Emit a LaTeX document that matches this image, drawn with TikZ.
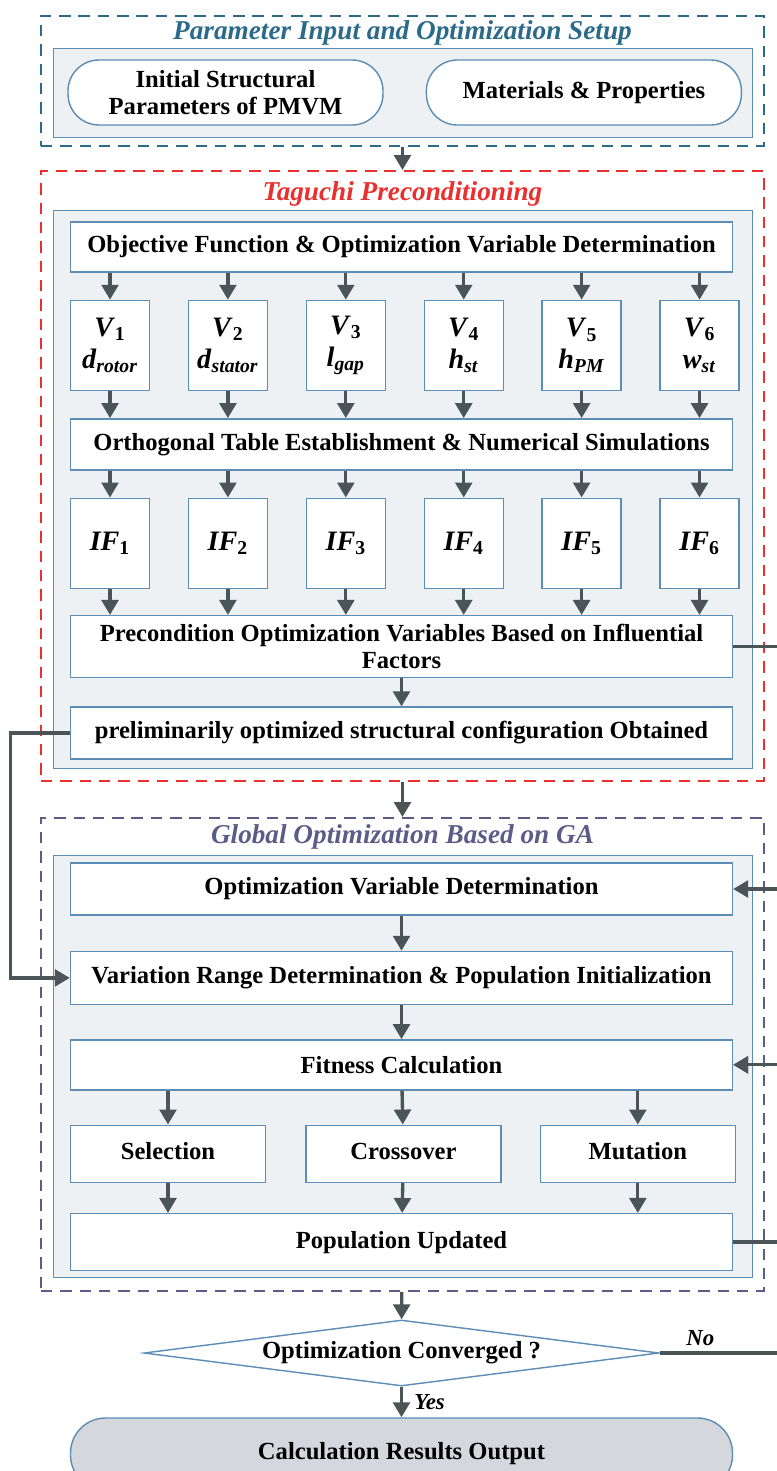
\documentclass[tikz,border=0pt]{standalone}
\usepackage{fontspec}
\setmainfont{Liberation Serif}
\usepackage{tikz}
\usetikzlibrary{arrows.meta,positioning,shapes.geometric}

\definecolor{setupblue}{HTML}{2C6A8A}
\definecolor{tagred}{HTML}{E8302F}
\definecolor{gapurple}{HTML}{5C5C88}
\definecolor{boxline}{HTML}{5B8DB5}
\definecolor{panelfill}{HTML}{EDF1F3}
\definecolor{arrowgray}{HTML}{4B5456}
\definecolor{termfill}{HTML}{D4D7DB}

\begin{document}
\begin{tikzpicture}[
    node distance=0.54cm,
    txt/.style={font=\fontsize{14}{15.4}\selectfont\bfseries},
    stage/.style={rectangle, draw, dashed, dash pattern=on 6.5pt off 4.5pt, line width=1.1pt, anchor=north west, inner sep=0pt},
    stagetitle/.style={font=\fontsize{15.5}{18}\selectfont\bfseries\itshape},
    panel/.style={rectangle, draw=boxline, line width=0.7pt, fill=panelfill, anchor=north west, inner sep=0pt},
    process/.style={txt, rectangle, draw=boxline, line width=0.8pt, fill=white, minimum width=13.24cm, text centered, align=center, inner ysep=2pt},
    varbox/.style={process, font=\fontsize{16}{18}\selectfont\bfseries, minimum width=1.58cm, minimum height=1.8cm, inner sep=0pt},
    gabox/.style={process, minimum width=3.9cm, minimum height=1.14cm, text height=9.5pt, text depth=3pt},
    inputbox/.style={process, rounded corners=0.62cm, minimum width=6.3cm, minimum height=1.3cm},
    decision/.style={txt, diamond, draw=boxline, line width=0.8pt, fill=white, aspect=7.8, minimum width=10.3cm, minimum height=1.32cm, inner sep=0pt},
    startstop/.style={process, rounded corners=0.7cm, fill=termfill, minimum height=1.44cm},
    arrow/.style={-{Triangle[length=8.5pt,width=9.5pt]}, line width=1.9pt, draw=arrowgray},
    branch/.style={font=\fontsize{13}{15}\selectfont\bfseries\itshape}
]
    \useasboundingbox (0,0) rectangle (15.54,-29.42);
    \clip (0,0) rectangle (15.54,-29.42);

    % Stage frames and panels
    \node[stage, draw=setupblue, minimum width=14.46cm, minimum height=2.6cm] (setup) at (0.80,-0.30) {};
    \node[panel, minimum width=13.98cm, minimum height=1.78cm] (setuppanel) at (1.06,-0.96) {};
    \node[stagetitle, text=setupblue] (setuptitle) at ([yshift=-0.36cm]setup.north) {Parameter Input and Optimization Setup};

    \node[stage, draw=tagred, minimum width=14.46cm, minimum height=12.2cm] (taguchi) at (0.80,-3.40) {};
    \node[panel, minimum width=13.98cm, minimum height=11.16cm] (taguchipanel) at (1.06,-4.20) {};
    \node[stagetitle, text=tagred] (taguchititle) at ([yshift=-0.48cm]taguchi.north) {Taguchi Preconditioning};

    \node[stage, draw=gapurple, minimum width=14.46cm, minimum height=9.46cm] (global) at (0.80,-16.34) {};
    \node[panel, minimum width=13.98cm, minimum height=8.44cm] (globalpanel) at (1.06,-17.10) {};
    \node[stagetitle, text=gapurple] (globaltitle) at ([yshift=-0.40cm]global.north) {Global Optimization Based on GA};

    % Parameter input
    \node[inputbox] (initparam) at (4.51,-1.85) {Initial Structural\\Parameters of PMVM};
    \node[inputbox, right=0.84cm of initparam] (materials) {Materials \& Properties};

    % Taguchi preconditioning
    \node[process, minimum height=1.0cm] (objfun) at (8.03,-4.94) {Objective Function \& Optimization Variable Determination};
    \node[varbox, below=of objfun.south west, anchor=north west] (v1) {\textit{V}\textsubscript{1}\\\textit{d}\textsubscript{\textit{rotor}}};
    \node[varbox, right=0.75cm of v1] (v2) {\textit{V}\textsubscript{2}\\\textit{d}\textsubscript{\textit{stator}}};
    \node[varbox, right=0.75cm of v2] (v3) {\textit{V}\textsubscript{3}\\\textit{l}\textsubscript{\textit{gap}}};
    \node[varbox, right=0.75cm of v3] (v4) {\textit{V}\textsubscript{4}\\\textit{h}\textsubscript{\textit{st}}};
    \node[varbox, right=0.75cm of v4] (v5) {\textit{V}\textsubscript{5}\\\textit{h}\textsubscript{\textit{PM}}};
    \node[varbox, right=0.75cm of v5] (v6) {\textit{V}\textsubscript{6}\\\textit{w}\textsubscript{\textit{st}}};
    \node[process, minimum height=1.02cm, below=of v1.south west, anchor=north west] (ortho) {Orthogonal Table Establishment \& Numerical Simulations};
    \node[varbox, below=of ortho.south west, anchor=north west] (if1) {\textit{IF}\textsubscript{1}};
    \node[varbox, right=0.75cm of if1] (if2) {\textit{IF}\textsubscript{2}};
    \node[varbox, right=0.75cm of if2] (if3) {\textit{IF}\textsubscript{3}};
    \node[varbox, right=0.75cm of if3] (if4) {\textit{IF}\textsubscript{4}};
    \node[varbox, right=0.75cm of if4] (if5) {\textit{IF}\textsubscript{5}};
    \node[varbox, right=0.75cm of if5] (if6) {\textit{IF}\textsubscript{6}};
    \node[process, minimum height=1.24cm, below=0.52cm of if1.south west, anchor=north west] (precond) {Precondition Optimization Variables Based on Influential\\Factors};
    \node[process, minimum height=1.04cm, below=0.56cm of precond] (prelim) {preliminarily optimized structural configuration Obtained};

    % Global optimization
    \node[process, minimum height=1.04cm] (optvar) at (8.03,-17.78) {Optimization Variable Determination};
    \node[process, minimum height=1.06cm, below=0.70cm of optvar] (varrange) {Variation Range Determination \& Population Initialization};
    \node[process, minimum height=1.0cm, below=0.68cm of varrange] (fitness) {Fitness Calculation};
    \node[gabox, below=0.68cm of fitness.south west, anchor=north west] (selection) {Selection};
    \node[gabox, right=0.78cm of selection] (crossover) {Crossover};
    \node[gabox, right=0.76cm of crossover] (mutation) {Mutation};
    \node[process, minimum height=1.14cm, below=0.60cm of selection.south west, anchor=north west] (popupdate) {Population Updated};

    % Convergence and output
    \node[decision] (converge) at (8.03,-27.06) {Optimization Converged ?};
    \node[startstop] (result) at (8.03,-29.08) {Calculation Results Output};
    \coordinate (rail) at (16.0,0);

    % Stage to stage
    \draw[arrow] (setup) -- (taguchi);
    \draw[arrow] (taguchi) -- (global);
    \draw[arrow] (global) -- (converge);
    \draw[arrow] (converge) -- node[branch, right, xshift=3pt] {Yes} (result);

    % Taguchi flow
    \foreach \i in {1,...,6} {
        \draw[arrow] (objfun.south -| v\i) -- (v\i);
        \draw[arrow] (v\i) -- (ortho.north -| v\i);
        \draw[arrow] (ortho.south -| if\i) -- (if\i);
        \draw[arrow] (if\i) -- (precond.north -| if\i);
    }
    \draw[arrow] (precond) -- (prelim);

    % GA flow
    \draw[arrow] (optvar) -- (varrange);
    \draw[arrow] (varrange) -- (fitness);
    \draw[arrow] (fitness.south -| selection) -- (selection);
    \draw[arrow] (fitness) -- (crossover);
    \draw[arrow] (fitness.south -| mutation) -- (mutation);
    \draw[arrow] (selection) -- (popupdate.north -| selection);
    \draw[arrow] (crossover) -- (popupdate);
    \draw[arrow] (mutation) -- (popupdate.north -| mutation);

    % Feedback lines
    \draw[arrow] (prelim.west) -- ++(-1.18,0) |- (varrange.west);
    \draw[arrow] (precond.east) -- (precond.east -| rail) |- (optvar.east);
    \draw[arrow] (popupdate.east) -- (popupdate.east -| rail) |- (fitness.east);
    \draw[arrow] (converge.east) -- node[branch, above, pos=0.29] {No} (converge.east -| rail) |- (fitness.east);
\end{tikzpicture}
\end{document}
